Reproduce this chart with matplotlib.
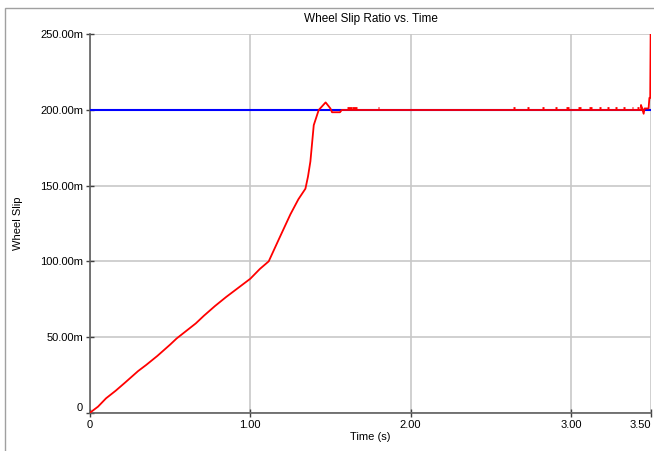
import matplotlib
matplotlib.use('Agg')
import matplotlib.pyplot as plt
from matplotlib.patches import Rectangle

plt.rcParams['font.family'] = ['Liberation Sans', 'DejaVu Sans']

# Wheel slip (in milli units) vs time (s)
time = [0.0, 0.05, 0.1, 0.16, 0.22, 0.3, 0.35, 0.42, 0.5, 0.54, 0.6, 0.66,
        0.71, 0.78, 0.85, 0.9, 0.95, 1.0, 1.06, 1.115, 1.18, 1.25, 1.3,
        1.344, 1.36, 1.375, 1.396, 1.427, 1.47, 1.5, 1.51, 1.56, 1.57,
        3.44, 3.4375, 3.445, 3.454, 3.46, 3.485, 3.49, 3.495, 3.498]
slip = [0.0, 4.0, 9.5, 14.5, 20.0, 27.5, 31.5, 37.5, 45.0, 49.0, 54.0, 59.0,
        64.0, 70.5, 76.5, 80.5, 84.5, 88.5, 95.0, 100.0, 115.0, 131.0, 141.0,
        148.0, 156.0, 166.0, 190.0, 200.0, 205.0, 201.0, 198.5, 198.5, 200.0,
        200.0, 203.3, 201.0, 197.5, 201.0, 201.0, 208.0, 208.0, 255.0]

# short flickers just above the target line
blip_t = [1.62, 1.65, 1.80, 2.646, 2.733, 2.827, 2.906, 2.979, 3.052, 3.121,
          3.183, 3.233, 3.281, 3.333, 3.385, 3.42]
blip_w = [0.03, 0.03, 0.012, 0.008, 0.008, 0.008, 0.014, 0.014, 0.02, 0.016,
          0.016, 0.012, 0.01, 0.01, 0.01, 0.01]
blip_y = 201.3

target = 200.0

xticks = [0, 1, 2, 3, 3.5]
xlabels = ['0', '1.00', '2.00', '3.00', '3.50']
yticks = [0, 50, 100, 150, 200, 250]
ylabels = ['0', '50.00m', '100.00m', '150.00m', '200.00m', '250.00m']

fig = plt.figure(figsize=(6.54, 4.51), dpi=100)
fig.patches.append(Rectangle((5 / 654, -0.1), 1.2, 1.1 - 8 / 451,
                             transform=fig.transFigure, fill=False,
                             edgecolor='#a0a0a0', linewidth=1.0))
ax = fig.add_axes([90 / 654, 1 - 412.7 / 451, 561 / 654, 378.4 / 451])

ax.axhline(target, color='#0000ff', linewidth=1.5, zorder=3)
ax.plot(time, slip, color='#ff0000', linewidth=1.3, zorder=4, clip_on=True)
for t, w in zip(blip_t, blip_w):
    ax.hlines(blip_y, t - w / 2, t + w / 2, color='#ff0000', linewidth=2.0, zorder=4)

ax.set_xlim(0, 3.5)
ax.set_ylim(0, 250)
ax.set_xticks(xticks)
ax.set_xticklabels(xlabels)
ax.set_yticks(yticks)
ax.set_yticklabels(ylabels)
ax.grid(True, color='#c8c8c8', linewidth=1.2)
ax.set_axisbelow(True)
for s in ['top', 'right']:
    ax.spines[s].set_visible(False)
for s in ['left', 'bottom']:
    ax.spines[s].set_color('#606060')
    ax.spines[s].set_linewidth(1.2)
ax.tick_params(direction='inout', length=6, width=1.0, color='#404040',
               labelsize=8, pad=2)
# last x label pulled inside the frame, zero y label raised like the original
ax.get_xticklabels()[-1].set_horizontalalignment('right')
ax.get_yticklabels()[0].set_verticalalignment('bottom')

ax.set_title('Wheel Slip Ratio vs. Time', fontsize=8.5, pad=9)
ax.set_xlabel('Time (s)', fontsize=8, labelpad=2)
ax.set_ylabel('Wheel Slip', fontsize=8, labelpad=12)

fig.savefig('out.png', dpi=100)
